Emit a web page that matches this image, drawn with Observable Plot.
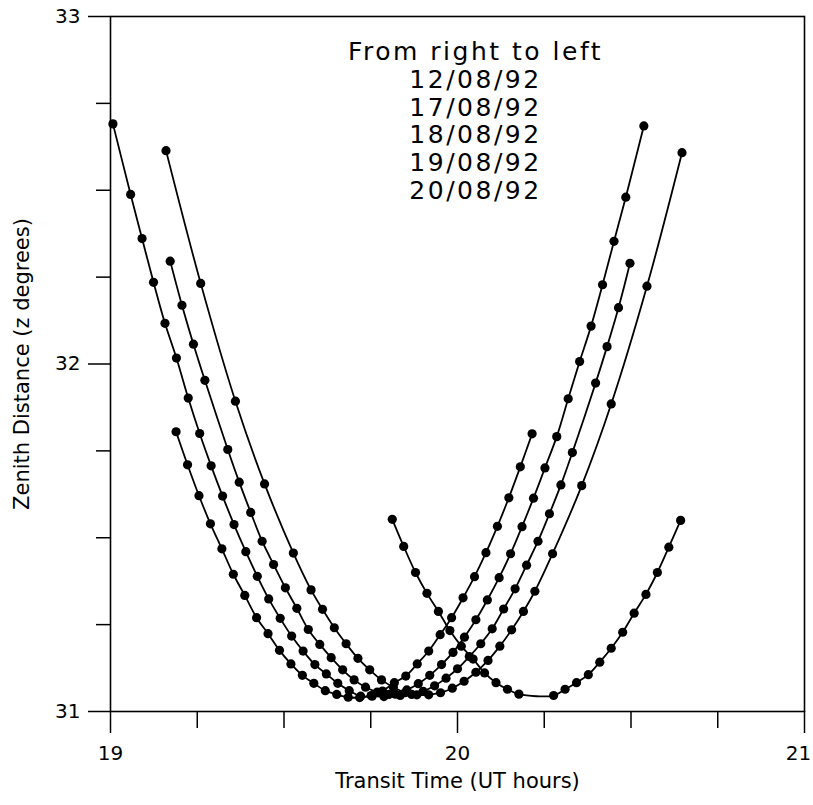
<!DOCTYPE html>
<html>
<head>
<meta charset="utf-8">
<script src="https://cdn.jsdelivr.net/npm/d3@7"></script>
<script src="https://cdn.jsdelivr.net/npm/@observablehq/plot@0.6"></script>
<style>
  html, body { margin: 0; padding: 0; background: #fff; overflow: hidden; }
  .legend text { letter-spacing: 2.5px; }
</style>
</head>
<body>
<div id="chart"></div>
<script>
// ---- Data ----
const dates = ["12/08/92", "17/08/92", "18/08/92", "19/08/92", "20/08/92"];

// 12/08/92 (rightmost curve)
const t12 = [19.812, 19.845, 19.879, 19.912, 19.945, 19.978, 20.011, 20.045, 20.078, 20.111, 20.144, 20.177,
             20.277, 20.310, 20.343, 20.377, 20.410, 20.443, 20.476, 20.509, 20.543, 20.576, 20.609, 20.643];
const z12 = [31.553, 31.475, 31.400, 31.340, 31.288, 31.233, 31.188, 31.151, 31.111, 31.083, 31.064, 31.050,
             31.046, 31.064, 31.083, 31.106, 31.142, 31.182, 31.228, 31.283, 31.337, 31.400, 31.473, 31.550];

// 17/08/92
const t17 = [19.160, 19.260, 19.360, 19.444, 19.527, 19.578, 19.611, 19.645, 19.679, 19.713, 19.747, 19.781,
             19.815, 19.849, 19.883, 19.917, 19.951, 19.985, 20.019, 20.053, 20.088, 20.122, 20.156, 20.190,
             20.223, 20.274, 20.358, 20.443, 20.546, 20.647];
const z17 = [32.614, 32.232, 31.893, 31.655, 31.456, 31.350, 31.294, 31.241, 31.195, 31.153, 31.120, 31.091,
             31.070, 31.054, 31.048, 31.048, 31.054, 31.067, 31.087, 31.113, 31.147, 31.188, 31.235, 31.288,
             31.346, 31.454, 31.650, 31.885, 32.224, 32.608];

// 18/08/92
const t18 = [19.172, 19.206, 19.239, 19.272, 19.338, 19.371, 19.404, 19.437, 19.470, 19.504, 19.537, 19.570,
             19.603, 19.636, 19.669, 19.702, 19.735, 19.769, 19.802, 19.835, 19.868, 19.901, 19.934, 19.967,
             20.000, 20.034, 20.067, 20.100, 20.133, 20.166, 20.199, 20.232, 20.265, 20.298, 20.331, 20.398,
             20.431, 20.464, 20.497];
const z18 = [32.296, 32.169, 32.057, 31.953, 31.754, 31.660, 31.573, 31.490, 31.423, 31.356, 31.297, 31.236,
             31.193, 31.155, 31.120, 31.091, 31.070, 31.056, 31.049, 31.046, 31.049, 31.058, 31.074, 31.096,
             31.123, 31.158, 31.195, 31.238, 31.295, 31.353, 31.421, 31.490, 31.569, 31.652, 31.745, 31.945,
             32.050, 32.162, 32.290];

// 19/08/92
const t19 = [19.007, 19.058, 19.091, 19.124, 19.157, 19.190, 19.224, 19.257, 19.290, 19.323, 19.356, 19.390,
             19.423, 19.456, 19.489, 19.522, 19.555, 19.589, 19.622, 19.655, 19.688, 19.721, 19.754, 19.788,
             19.821, 19.854, 19.887, 19.920, 19.954, 19.987, 20.020, 20.053, 20.086, 20.120, 20.153, 20.186,
             20.219, 20.252, 20.286, 20.319, 20.352, 20.385, 20.418, 20.451, 20.485, 20.537];
const z19 = [32.691, 32.488, 32.361, 32.235, 32.117, 32.017, 31.902, 31.800, 31.707, 31.620, 31.538, 31.460,
             31.389, 31.324, 31.268, 31.217, 31.174, 31.135, 31.108, 31.081, 31.060, 31.044, 31.044, 31.043,
             31.050, 31.062, 31.080, 31.104, 31.135, 31.170, 31.214, 31.264, 31.321, 31.385, 31.454, 31.532,
             31.614, 31.701, 31.791, 31.900, 32.007, 32.109, 32.228, 32.353, 32.480, 32.685];

// 20/08/92 (leftmost curve)
const t20 = [19.189, 19.222, 19.255, 19.288, 19.321, 19.354, 19.387, 19.421, 19.454, 19.487, 19.520, 19.553,
             19.586, 19.619, 19.652, 19.685, 19.718, 19.751, 19.784, 19.818, 19.851, 19.884, 19.917, 19.950,
             19.983, 20.016, 20.049, 20.082, 20.115, 20.148, 20.181, 20.215];
const z20 = [31.805, 31.710, 31.621, 31.540, 31.468, 31.395, 31.334, 31.270, 31.224, 31.176, 31.137, 31.104,
             31.081, 31.060, 31.049, 31.041, 31.040, 31.046, 31.059, 31.083, 31.102, 31.137, 31.174, 31.221,
             31.270, 31.327, 31.388, 31.457, 31.533, 31.615, 31.704, 31.799];

// Axis ticks and labels
const xMajor = [19, 20, 21];
const xTickLabels = ["19", "20", "21"];
const xMinor = [19.25, 19.5, 19.75, 20.25, 20.5, 20.75];
const yMajor = [31, 32, 33];
const yTickLabels = ["31", "32", "33"];
const yMinor = [31.25, 31.5, 31.75, 32.25, 32.5, 32.75];

const xTitle = "Transit Time (UT hours)";
const yTitle = "Zenith Distance (z degrees)";
const legendLines = ["From right to left", ...dates];

// ---- Build table ----
const series = [[t12, z12], [t17, z17], [t18, z18], [t19, z19], [t20, z20]];
const rows = series.flatMap(([ts, zs], k) => ts.map((t, i) => ({date: dates[k], t, z: zs[i]})));
const xLabel = d => xTickLabels[xMajor.indexOf(d)];

const chart = Plot.plot({
  width: 813,
  height: 805,
  marginLeft: 110,
  marginRight: 9,
  marginTop: 16,
  marginBottom: 94,
  style: {fontFamily: "DejaVu Sans, sans-serif", color: "black", background: "white"},
  x: {domain: [19, 21]},
  y: {domain: [31, 33]},
  marks: [
    Plot.frame({stroke: "black", strokeWidth: 1.6}),
    Plot.axisY(yMajor, {tickSize: 22, tickPadding: 8, fontSize: 20, strokeWidth: 1.5,
      tickFormat: d => yTickLabels[yMajor.indexOf(d)], label: null}),
    Plot.axisY(yMinor, {tickSize: 14, strokeWidth: 1.5, tickFormat: () => "", label: null}),
    Plot.axisX(xMajor, {tickSize: 22, strokeWidth: 1.5, tickFormat: () => "", label: null}),
    Plot.axisX(xMajor.slice(0, 2), {tickSize: 0, tickPadding: 34, fontSize: 20, tickFormat: xLabel, label: null}),
    Plot.axisX(xMajor.slice(2), {tickSize: 0, tickPadding: 34, fontSize: 20, dx: -6, tickFormat: xLabel, label: null}),
    Plot.axisX(xMinor, {tickSize: 17, strokeWidth: 1.5, tickFormat: () => "", label: null}),
    Plot.line(rows, {x: "t", y: "z", z: "date", curve: "catmull-rom", stroke: "black", strokeWidth: 1.8}),
    Plot.dot(rows, {x: "t", y: "z", r: 4.6, fill: "black", stroke: "none"}),
    Plot.text([legendLines.join("\n")], {text: d => d, frameAnchor: "top", dx: 18, dy: 24,
      lineAnchor: "top", textAnchor: "middle", fontSize: 25, lineHeight: 1.11, fill: "black", className: "legend"}),
    Plot.text([xTitle], {text: d => d, frameAnchor: "bottom", dy: 76, fontSize: 21, fill: "black"}),
    Plot.text([yTitle], {text: d => d, frameAnchor: "left", dx: -88, rotate: -90, textAnchor: "middle",
      fontSize: 21, fill: "black"})
  ]
});
document.getElementById("chart").appendChild(chart);
</script>
</body>
</html>
